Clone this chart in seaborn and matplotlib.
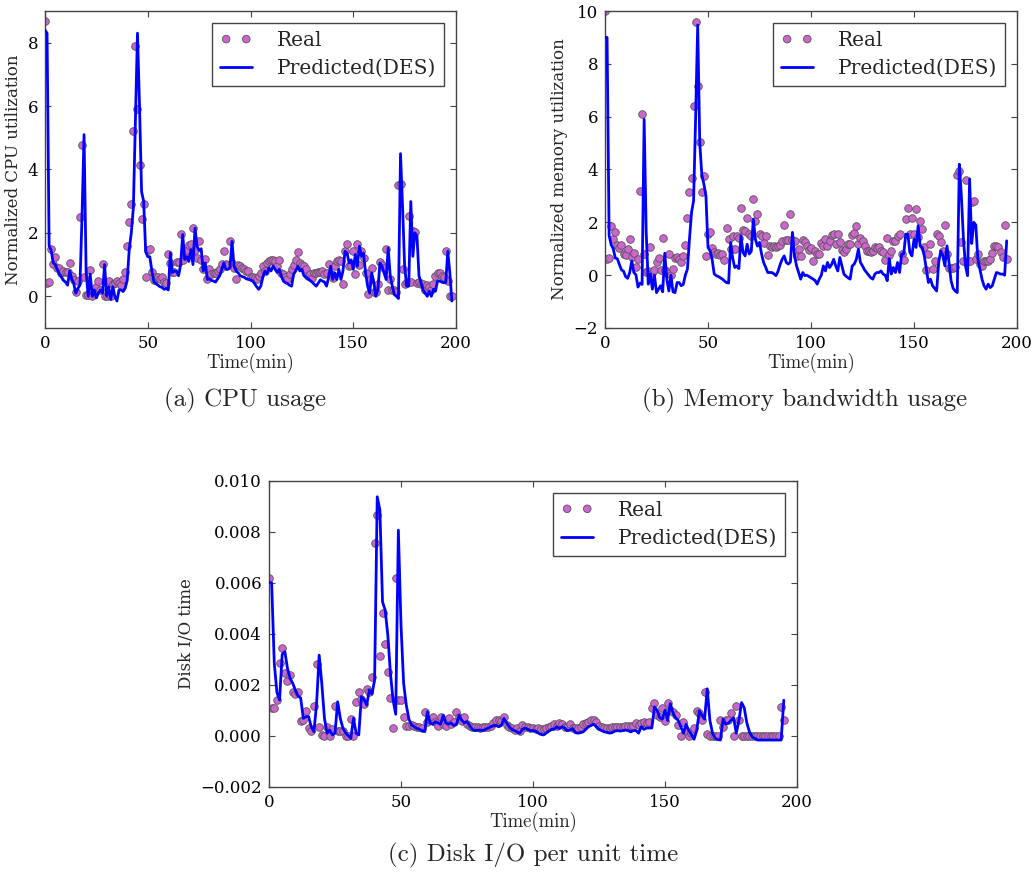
import numpy as np
import pandas as pd
import matplotlib
matplotlib.use("Agg")
import matplotlib.pyplot as plt
import seaborn as sns
from matplotlib.ticker import FuncFormatter

# ---------------- data ----------------
cpu_real = [
    8.7, 0.42, 0.45, 1.5, 1.02, 1.24, 0.88, 0.9, 0.75, 0.8,
    0.78, 0.76, 1.05, 0.64, 0.5, 0.15, 0.48, 2.5, 4.77, 0.6,
    0.05, 0.05, 0.82, 0.0, 0.1, 0.3, 0.47, 0.2, 1.03, 0.02,
    0.0, 0.47, 0.0, 0.38, 0.42, 0.47, 0.42, 0.35, 0.55, 0.77,
    1.6, 2.35, 2.92, 5.23, 7.9, 5.92, 4.13, 2.45, 2.9, 0.6,
    1.47, 1.5, 0.78, 0.5, 0.62, 0.6, 0.55, 0.6, 0.45, 0.43,
    1.35, 1.05, 0.78, 0.76, 1.07, 1.07, 1.95, 1.16, 1.32, 1.45,
    1.63, 1.66, 2.16, 1.47, 1.2, 1.74, 1.16, 0.87, 1.17, 0.56,
    0.85, 0.7, 0.75, 0.72, 0.8, 0.87, 1.03, 1.42, 1.02, 1.0,
    1.76, 1.05, 0.9, 0.55, 0.98, 0.95, 0.9, 0.85, 0.8, 0.8,
    0.62, 0.6, 0.58, 0.56, 0.64, 0.72, 0.95, 0.8, 1.05, 1.1,
    1.16, 1.16, 1.1, 0.95, 1.13, 0.74, 0.71, 0.6, 0.55, 0.7,
    0.87, 1.0, 1.16, 1.4, 1.05, 1.0, 0.95, 0.85, 0.65, 0.7,
    0.58, 0.75, 0.75, 0.78, 0.78, 0.8, 0.7, 0.72, 1.02, 0.7,
    0.58, 0.95, 1.1, 1.13, 1.12, 0.38, 1.44, 1.66, 0.97, 1.0,
    1.42, 0.71, 1.65, 0.98, 1.42, 1.2, 0.74, 0.06, 0.5, 0.88,
    0.12, 0.12, 0.4, 1.09, 1.0, 0.9, 1.49, 0.19, 0.55, 0.2,
    0.2, 0.15, 3.5, 3.55, 0.87, 0.38, 0.45, 2.52, 0.45, 2.07,
    2.03, 0.43, 0.45, 0.4, 0.4, 0.2, 0.35, 0.3, 0.2, 0.4,
    0.65, 0.75, 0.72, 0.65, 0.6, 1.42, 0.48, 0.0, 0.0,
]
cpu_pred = [
    8.4, 8.3, 1.6, 1.45, 1.05, 1.0, 0.85, 0.7, 0.6, 0.5,
    0.45, 0.35, 0.8, 0.55, 0.4, 0.1, 0.25, 0.35, 2.5, 5.1,
    0.8, 0.0, 0.7, 0.0, 0.2, -0.05, 0.1, 0.2, 0.1, 1.0,
    0.0, 0.3, -0.1, 0.3, 0.0, -0.15, 0.2, 0.2, 0.15, 0.25,
    0.5, 1.5, 2.0, 2.8, 5.5, 8.3, 6.0, 3.3, 3.0, 1.4,
    1.25, 1.25, 0.8, 0.45, 0.4, 0.35, 0.3, 0.28, 0.22, 0.25,
    0.2, 1.37, 0.75, 0.8, 0.78, 0.65, 1.0, 1.95, 1.16, 1.25,
    1.1, 1.47, 1.0, 2.15, 1.58, 1.45, 1.5, 0.8, 1.05, 0.53,
    0.55, 0.5, 0.48, 0.45, 0.55, 0.65, 0.85, 1.05, 0.85, 0.85,
    0.9, 1.73, 0.95, 0.8, 0.74, 0.65, 0.62, 0.6, 0.55, 0.53,
    0.52, 0.48, 0.4, 0.3, 0.22, 0.32, 0.6, 0.8, 0.7, 0.9,
    0.8, 0.95, 0.85, 0.75, 0.85, 0.64, 0.48, 0.43, 0.4, 0.35,
    0.32, 0.7, 0.8, 0.95, 0.8, 0.85, 0.65, 0.6, 0.55, 0.5,
    0.45, 0.38, 0.32, 0.42, 0.52, 0.48, 0.45, 0.32, 0.6, 0.95,
    0.53, 0.74, 0.53, 0.85, 0.53, 0.8, 1.42, 1.36, 1.05, 1.15,
    0.85, 1.32, 0.95, 1.58, 1.26, 1.36, 0.74, 0.32, 0.1, 0.74,
    0.43, 0.0, 0.22, 1.05, 0.95, 0.74, 0.53, 1.52, 0.64, 0.32,
    0.06, 0.0, -0.07, 4.5, 2.83, 0.95, 0.32, 0.32, 2.99, 1.26,
    2.0, 1.9, 0.64, 0.43, 0.2, 0.1, 0.0, 0.16, 0.0, 0.22,
    0.16, 0.48, 0.48, 0.45, 0.43, 0.43, 1.42, 0.74, -0.15,
]
mem_real = [
    10.0, 0.62, 0.65, 1.85, 1.36, 1.63, 1.15, 1.03, 1.13, 0.8,
    0.77, 1.0, 1.38, 0.7, 0.85, 0.3, 0.6, 3.19, 6.1, 0.79,
    0.12, 0.16, 1.07, 0.1, 0.2, 0.5, 0.66, 0.2, 1.42, 0.18,
    0.09, 0.8, 0.0, 0.23, 0.64, 0.7, 0.6, 0.48, 0.72, 1.13,
    2.18, 3.16, 3.67, 6.41, 9.57, 7.17, 5.05, 3.13, 3.77, 0.73,
    1.55, 1.64, 1.02, 0.86, 0.8, 0.85, 0.78, 0.8, 0.58, 1.8,
    1.36, 1.0, 1.49, 1.0, 1.49, 1.42, 2.56, 1.72, 1.68, 2.18,
    1.55, 1.5, 2.88, 2.06, 2.31, 1.55, 1.49, 1.2, 1.49, 0.76,
    1.1, 1.08, 1.1, 1.05, 1.1, 1.15, 1.3, 1.9, 1.33, 1.33,
    2.31, 1.34, 1.3, 0.73, 1.0, 0.73, 1.34, 1.26, 1.1, 0.96,
    1.01, 0.52, 0.92, 0.8, 0.82, 1.21, 1.11, 1.36, 1.1, 1.3,
    1.52, 1.55, 1.17, 1.55, 1.24, 0.95, 0.86, 0.98, 1.17, 1.17,
    1.52, 1.6, 1.87, 1.17, 1.39, 1.3, 1.11, 0.92, 0.92, 0.86,
    0.92, 1.05, 1.01, 1.05, 0.92, 0.88, 0.58, 1.39, 0.77, 0.92,
    1.3, 1.3, 1.49, 1.55, 0.8, 0.58, 2.12, 2.53, 1.55, 2.15,
    1.55, 2.5, 1.45, 2.06, 1.74, 1.05, 0.2, 0.8, 1.17, 0.23,
    0.54, 1.55, 1.5, 1.24, 0.9, 1.89, 0.82, 0.29, 0.29, 0.27,
    0.3, 3.79, 3.95, 1.24, 0.52, 3.6, 0.52, 0.54, 2.78, 2.8,
    0.6, 0.8, 0.42, 0.35, 0.54, 0.52, 0.54, 0.6, 0.83, 1.09,
    1.09, 1.05, 0.88, 0.7, 1.89, 0.6,
]
mem_pred = [
    9.0, 9.0, 1.5, 1.15, 1.0, 0.65, 0.62, 0.4, 0.2, 0.15,
    -0.05, -0.12, 0.1, 0.54, 0.1, 0.02, -0.45, -0.3, -0.35, 5.9,
    1.62, -0.34, 0.05, -0.53, 0.0, -0.66, -0.53, -0.4, -0.63, 0.83,
    -0.15, -0.6, 0.0, -0.63, -0.66, -0.28, -0.28, -0.4, -0.35, 0.0,
    0.23, 1.36, 2.37, 2.82, 6.0, 9.47, 5.0, 3.8, 3.45, 3.0,
    1.05, 0.92, 0.6, 0.05, -0.02, -0.05, -0.1, -0.15, -0.22, -0.28,
    -0.3, 1.24, 0.63, 0.29, 0.35, 0.25, 1.49, 0.86, 0.73, 1.17,
    0.8, 0.9, 2.12, 1.36, 1.1, 1.24, 0.8, 0.48, 0.3, 0.1,
    0.1, 0.1, 0.05, -0.02, 0.15, 0.4, 0.6, 0.73, 0.48, 0.42,
    0.5, 1.62, 0.73, 0.35, 0.1, -0.15, 0.1, -0.02, 0.0, -0.05,
    -0.1, -0.15, -0.2, -0.34, -0.15, 0.0, 0.35, 0.16, 0.48, 0.29,
    0.4, 0.6, 0.35, 0.16, 0.67, 0.35, 0.04, -0.04, -0.1, -0.15,
    0.35, 0.42, 0.6, 0.98, 0.48, 0.35, 0.2, 0.1, 0.0, -0.1,
    -0.15, 0.04, 0.1, 0.1, 0.16, 0.04, 0.0, -0.21, 0.63, 0.04,
    0.29, 0.1, 0.48, 0.1, 0.8, 0.8, 1.55, 1.55, 0.86, 0.73,
    1.36, 1.05, 1.87, 1.1, 1.05, 0.73, 0.23, -0.28, -0.15, -0.4,
    -0.5, -0.6, 0.5, 0.92, 0.73, 0.35, 1.11, 0.48, -0.21, -0.5,
    -0.6, -0.66, 4.2, 3.0, 1.36, 0.35, -0.02, 3.64, 1.2, 2.0,
    1.9, 0.6, 0.23, -0.15, -0.4, -0.53, -0.34, -0.47, -0.4, -0.15,
    0.1, 0.08, 0.04, 0.04, 0.0, 1.3,
]
disk_real = [
    0.00618, 0.0011, 0.0011, 0.0014, 0.00286, 0.00342, 0.00245, 0.00215, 0.0024, 0.0017,
    0.00163, 0.0017, 0.00056, 0.00062, 0.00095, 0.0003, 0.00017, 0.00117, 0.00281, 0.00036,
    0.00004, 0.0, 0.00036, 0.0, 0.00026, 0.00118, 0.0002, 0.0002, 0.0002, 0.0,
    0.0, 0.00065, 0.0, 0.00134, 0.0017, 0.00144, 0.00125, 0.00183, 0.0017, 0.0023,
    0.00755, 0.00865, 0.00314, 0.00481, 0.00358, 0.00251, 0.00147, 0.0003, 0.00618, 0.0014,
    0.0014, 0.00073, 0.00039, 0.0004, 0.00042, 0.0004, 0.00035, 0.00036, 0.0003, 0.00092,
    0.00052, 0.0006, 0.00075, 0.00053, 0.0004, 0.00075, 0.00045, 0.0004, 0.00068, 0.00045,
    0.00055, 0.00092, 0.00075, 0.00058, 0.00075, 0.00045, 0.0004, 0.00034, 0.00033, 0.00033,
    0.0003, 0.00036, 0.00036, 0.00036, 0.0004, 0.0005, 0.0006, 0.00062, 0.00056, 0.00075,
    0.00043, 0.00034, 0.0003, 0.00023, 0.0003, 0.0002, 0.00043, 0.00036, 0.00034, 0.0003,
    0.0003, 0.00026, 0.0003, 0.00026, 0.00026, 0.0003, 0.00036, 0.0004, 0.00045, 0.00039,
    0.0005, 0.00045, 0.00036, 0.00036, 0.00045, 0.00032, 0.0003, 0.0003, 0.00036, 0.00045,
    0.0005, 0.00052, 0.0006, 0.00062, 0.00052, 0.00039, 0.00036, 0.00032, 0.0003, 0.0003,
    0.00034, 0.00036, 0.00036, 0.00036, 0.00036, 0.00039, 0.00039, 0.00039, 0.00039, 0.0005,
    0.00043, 0.0005, 0.00052, 0.0005, 0.00053, 0.0011, 0.0013, 0.00082, 0.00072, 0.0011,
    0.00056, 0.0013, 0.001, 0.00092, 0.00082, 0.00043, 0.0, 0.00052, 0.0002, 0.0,
    0.0001, 0.0003, 0.00098, 0.00088, 0.0006, 0.0017, 0.00008, 0.0, 0.0, 0.0,
    0.0, 0.00062, 0.00034, 0.0006, 0.0006, 0.00088, 0.0, 0.00118, 0.0006, 0.0,
    0.0, 0.0, 0.0, 0.0, 0.0, 0.0, 0.0, 0.0, 0.0, 0.0,
    0.0, 0.0, 0.0, 0.0, 0.00114, 0.00062,
]
disk_pred = [
    0.006, 0.006, 0.00284, 0.0017, 0.0014, 0.00319, 0.0033, 0.00264, 0.00225, 0.00205,
    0.00179, 0.00156, 0.00148, 0.00068, 0.00075, 0.00075, 0.00035, 0.00016, 0.0012, 0.00316,
    0.00205, 0.00068, 0.0001, 0.00022, 0.00003, 0.0001, 0.00133, 0.00068, 0.00029, 0.00012,
    0.0, -0.0001, 0.00068, 0.0001, 0.00003, 0.00153, 0.00142, 0.0012, 0.00179, 0.00163,
    0.00218, 0.00937, 0.00885, 0.00525, 0.00493, 0.00395, 0.00244, 0.0014, 0.00084, 0.00806,
    0.00434, 0.00205, 0.0012, 0.00065, 0.00042, 0.00035, 0.00029, 0.00025, 0.0002, 0.00016,
    0.00094, 0.0005, 0.00045, 0.00055, 0.0005, 0.00045, 0.0008, 0.0005, 0.00045, 0.0005,
    0.0004, 0.00045, 0.0008, 0.0006, 0.0005, 0.00055, 0.0004, 0.00025, 0.0002, 0.00022,
    0.00022, 0.0002, 0.00025, 0.0003, 0.00035, 0.0004, 0.0004, 0.00035, 0.0004, 0.00068,
    0.0005, 0.00035, 0.00025, 0.0002, 0.00015, 0.0001, 0.00025, 0.0003, 0.00025, 0.0002,
    0.0002, 0.00018, 0.0001, 0.00005, 0.00003, 0.0001, 0.00018, 0.00025, 0.00025, 0.00035,
    0.00028, 0.00035, 0.0003, 0.0002, 0.00022, 0.00028, 0.00012, 0.0001, 0.00012, 0.00015,
    0.00025, 0.00035, 0.0004, 0.00045, 0.00035, 0.00025, 0.0002, 0.00015, 0.00013, 0.0001,
    0.00012, 0.00018, 0.0002, 0.00018, 0.0002, 0.00022, 0.0002, 0.00015, 0.0002, 0.0002,
    0.0001, 0.00035, 0.00025, 0.0003, 0.0003, 0.0003, 0.00113, 0.001, 0.0007, 0.00065,
    0.001, 0.0006, 0.00126, 0.0009, 0.0007, 0.0006, 0.00035, 0.0001, 0.00045, 0.0002,
    0.00005, -0.00014, 0.0002, 0.00097, 0.0008, 0.00065, 0.00184, 0.0006, 0.0001, -0.0001,
    -0.00015, -0.00017, 0.00065, 0.00045, 0.0005, 0.0006, 0.0007, 0.0001, 0.0006, 0.0013,
    0.0011, 0.0005, 0.00015, -0.00005, -0.0001, -0.00017, -0.00017, -0.00017, -0.00017, -0.00017,
    -0.00017, -0.00017, -0.00017, -0.00017, -0.00017, 0.00139,
]

x_ticks = [0, 50, 100, 150, 200]
cpu_yticks = [0, 2, 4, 6, 8]
mem_yticks = [-2, 0, 2, 4, 6, 8, 10]
disk_yticks = [-0.002, 0.0, 0.002, 0.004, 0.006, 0.008, 0.010]

# ---------------- style ----------------
sns.set_style("ticks")
plt.rcParams.update({
    "font.family": ["DejaVu Serif"],
    "font.size": 12,
    "axes.unicode_minus": True,
    "xtick.direction": "in",
    "ytick.direction": "in",
    "xtick.top": True,
    "ytick.right": True,
    "xtick.major.size": 4,
    "ytick.major.size": 4,
    "xtick.major.width": 0.8,
    "ytick.major.width": 0.8,
    "xtick.color": "#444444",
    "ytick.color": "#444444",
    "xtick.labelcolor": "black",
    "ytick.labelcolor": "black",
    "xtick.labelsize": 12,
    "ytick.labelsize": 12,
    "axes.edgecolor": "#444444",
    "axes.linewidth": 1.0,
})

fig = plt.figure(figsize=(10.36, 8.72), dpi=100)
W, H = 1036, 872
axA = fig.add_axes([45 / W, 1 - 328 / H, 411 / W, 317 / H])
axB = fig.add_axes([605 / W, 1 - 328 / H, 412 / W, 317 / H])
axC = fig.add_axes([269 / W, 1 - 786.7 / H, 528 / W, 306 / H])


def draw(ax, real, pred, ylim, yticks, ylabel, decimals=None):
    df = pd.DataFrame({"t": np.arange(len(real)), "real": real, "pred": pred})
    sns.scatterplot(data=df, x="t", y="real", ax=ax, color="#cc66cc",
                    edgecolor="#555555", linewidth=0.6, s=30, label="Real",
                    zorder=2)
    sns.lineplot(data=df, x="t", y="pred", ax=ax, color="blue", linewidth=2,
                 label="Predicted(DES)", zorder=3)
    ax.set_xlim(0, 200)
    ax.set_ylim(*ylim)
    ax.set_xticks(x_ticks)
    ax.set_yticks(yticks)
    if decimals is not None:
        ax.yaxis.set_major_formatter(FuncFormatter(
            lambda v, p: f"{v:.{decimals}f}".replace("-", "\u2212")))
    ax.tick_params(pad=5)
    ax.set_xlabel("Time(min)", family="cmr10", fontsize=13.5, labelpad=1)
    ax.set_ylabel(ylabel, fontsize=12, labelpad=4)
    leg = ax.legend(loc="upper right", scatterpoints=2, scatteryoffsets=[0.5],
                    frameon=True, fancybox=False, framealpha=1,
                    edgecolor="#444444", fontsize=14.5, handlelength=1.6,
                    handletextpad=1.2, borderpad=0.4, labelspacing=0.45,
                    borderaxespad=0.6)
    leg.get_frame().set_linewidth(1.0)


draw(axA, cpu_real, cpu_pred, (-1, 9), cpu_yticks, "Normalized CPU utilization")
draw(axB, mem_real, mem_pred, (-2, 10), mem_yticks, "Normalized memory utilization")
draw(axC, disk_real, disk_pred, (-0.002, 0.010), disk_yticks, "Disk I/O time",
     decimals=3)

cap = dict(ha="center", va="center", family="cmr10", fontsize=18)
fig.text(245 / W, 1 - 400 / H, "(a) CPU usage", **cap)
fig.text(805 / W, 1 - 400 / H, "(b) Memory bandwidth usage", **cap)
fig.text(533 / W, 1 - 855 / H, "(c) Disk I/O per unit time", **cap)

fig.savefig("out.png", dpi=100)
